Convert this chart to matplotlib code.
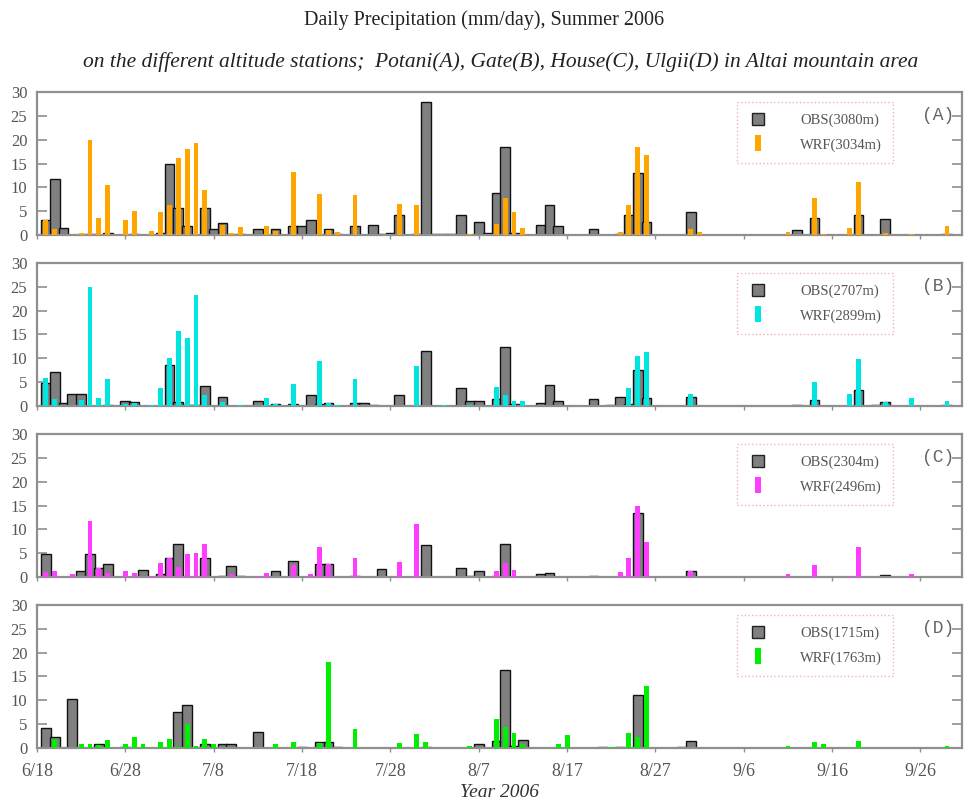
import matplotlib
matplotlib.use("Agg")
import matplotlib.pyplot as plt
from matplotlib.lines import Line2D
import numpy as np

# daily precipitation (mm/day), index 0 = 6/18/2006 ... 104 = 9/30/2006
obs_a = [0, 3.1, 11.7, 1.5, 0, 0, 0.3, 0, 0.5, 0,
         0, 0.2, 0, 0, 0.5, 14.9, 5.7, 1.9, 0, 5.7,
         1.2, 2.6, 0, 0.3, 0, 1.2, 0, 1.2, 0, 1.8,
         1.8, 3.2, 0, 1.2, 0.3, 0, 1.9, 0, 2.0, 0.3,
         0.5, 4.1, 0, 0.3, 27.9, 0.2, 0.2, 0.2, 4.3, 0,
         2.8, 0.5, 8.9, 18.5, 0.5, 0, 0, 2.1, 6.2, 1.9,
         0, 0, 0, 1.2, 0, 0, 0.3, 4.3, 13.0, 2.7,
         0, 0, 0, 0, 4.9, 0, 0, 0, 0, 0,
         0, 0, 0, 0, 0, 0, 1.0, 0, 3.5, 0,
         0, 0, 0, 4.2, 0, 0, 3.3, 0, 0, 0,
         0, 0, 0, 0.3, 0]
wrf_a = [0, 3.1, 1.3, 0, 0, 0.5, 20.0, 3.5, 10.6, 0,
         3.1, 5.0, 0, 0.9, 4.8, 6.4, 16.1, 18.1, 19.3, 9.4,
         0, 2.1, 0.5, 1.6, 0, 0, 1.8, 0.9, 0, 13.2,
         0, 0, 8.6, 1.1, 0.7, 0, 8.4, 0, 0, 0,
         0, 6.5, 0, 6.2, 0, 0, 0, 0, 0, 0.3,
         0, 0, 2.3, 7.7, 4.8, 1.4, 0, 0, 0, 0,
         0, 0, 0, 0, 0, 0, 0.7, 6.2, 18.5, 16.8,
         0, 0, 0, 0, 1.3, 0.7, 0, 0, 0, 0,
         0, 0, 0, 0, 0, 0.7, 0, 0, 7.8, 0.3,
         0, 0, 1.4, 11.2, 0, 0, 0.5, 0, 0, 0.2,
         0, 0, 0, 1.8, 0]

obs_b = [0, 4.9, 7.1, 0.6, 2.6, 2.6, 0, 0, 0.2, 0,
         1.1, 0.8, 0, 0, 0, 8.6, 0.8, 0.3, 0.3, 4.2,
         0, 1.9, 0, 0, 0, 1.1, 0, 0.5, 0, 0.5,
         0, 2.3, 0.5, 0.6, 0, 0, 0.6, 0.6, 0.2, 0,
         0, 2.2, 0, 0, 11.5, 0, 0, 0, 3.8, 1.1,
         1.1, 0, 1.4, 12.4, 0.5, 0, 0, 0.6, 4.4, 1.0,
         0, 0, 0, 1.4, 0, 0.3, 1.8, 0.4, 7.6, 1.7,
         0, 0, 0, 0, 1.8, 0, 0, 0, 0, 0,
         0, 0, 0, 0, 0, 0, 0.3, 0, 1.3, 0,
         0, 0, 0, 3.3, 0, 0.3, 0.9, 0, 0, 0,
         0, 0, 0, 0.2, 0]
wrf_b = [0, 5.9, 1.4, 0, 0, 1.3, 24.9, 1.6, 5.7, 0,
         0.5, 0.6, 0, 0.3, 3.8, 10.0, 15.7, 14.3, 23.3, 2.3,
         0, 0.8, 0, 0.3, 0, 0, 1.6, 0.5, 0, 4.7,
         0, 0, 9.5, 0.7, 0.3, 0, 5.6, 0, 0, 0,
         0, 0, 0, 8.4, 0, 0, 0.3, 0, 0, 0.3,
         0, 0, 3.9, 2.4, 1.1, 1.1, 0, 0, 0, 0,
         0, 0, 0, 0, 0, 0, 0, 3.7, 10.4, 11.3,
         0, 0, 0, 0, 2.5, 0.1, 0, 0, 0, 0,
         0, 0, 0, 0, 0, 0, 0, 0, 5.0, 0,
         0, 0, 2.6, 9.9, 0, 0, 0.9, 0, 0, 1.6,
         0, 0, 0, 1.1, 0]

obs_c = [0, 4.9, 0, 0, 0, 1.3, 4.9, 1.8, 2.7, 0,
         0, 0, 1.4, 0, 0.6, 3.9, 6.9, 0, 0, 3.9,
         0, 0.3, 2.3, 0.3, 0, 0, 0, 1.3, 0, 3.4,
         0, 0, 2.7, 2.7, 0, 0, 0.3, 0, 0, 1.6,
         0, 0, 0, 0, 6.8, 0, 0, 0, 1.8, 0.3,
         1.3, 0, 0.3, 7.0, 0, 0, 0, 0.7, 0.9, 0,
         0, 0, 0, 0.2, 0, 0, 0, 0, 13.4, 0,
         0, 0, 0, 0, 1.3, 0, 0, 0, 0, 0,
         0, 0, 0, 0, 0, 0, 0, 0, 0, 0,
         0, 0, 0, 0, 0, 0, 0.4, 0, 0, 0,
         0, 0, 0, 0, 0]
wrf_c = [0, 1.1, 1.3, 0, 0.6, 0, 11.8, 1.8, 0.8, 0,
         1.3, 0.8, 0, 0.2, 3.0, 3.9, 2.0, 4.8, 5.1, 6.9,
         0, 0, 0.6, 0, 0, 0.2, 0.8, 0, 0, 2.5,
         0, 0.6, 6.2, 2.8, 0, 0, 3.9, 0, 0, 0,
         0, 3.2, 0, 11.1, 0, 0, 0, 0, 0, 0,
         0, 0, 1.3, 3.0, 1.4, 0, 0, 0, 0, 0,
         0, 0, 0, 0, 0, 0, 1.0, 3.9, 15.0, 7.3,
         0, 0, 0, 0, 1.3, 0, 0, 0, 0, 0,
         0, 0, 0, 0, 0, 0.6, 0, 0, 2.5, 0,
         0, 0, 0.2, 6.2, 0, 0, 0, 0, 0, 0.6,
         0, 0, 0, 0, 0]

obs_d = [0, 4.1, 2.4, 0, 10.3, 0, 0, 0.8, 0, 0,
         0.3, 0, 0, 0, 0, 0, 7.5, 9.1, 0, 0.9,
         0, 0.8, 0.8, 0, 0, 3.4, 0, 0, 0, 0,
         0.2, 0, 1.2, 1.2, 0.3, 0, 0, 0, 0, 0,
         0, 0, 0, 0, 0.2, 0, 0, 0, 0, 0,
         0.8, 0, 1.5, 16.3, 0.5, 1.6, 0, 0, 0, 0,
         0, 0, 0, 0, 0.3, 0, 0.3, 0, 11.2, 0,
         0, 0, 0, 0.3, 1.4, 0, 0, 0, 0, 0,
         0, 0, 0, 0, 0, 0, 0, 0, 0, 0,
         0, 0, 0, 0, 0, 0, 0, 0, 0, 0,
         0, 0, 0, 0, 0]
wrf_d = [0, 0, 1.9, 0, 0, 0.8, 0.8, 0.7, 1.6, 0,
         0.8, 2.3, 0.8, 0, 1.2, 1.9, 0.3, 5.0, 0.4, 1.9,
         0.9, 0, 0, 0, 0, 0, 0, 0.9, 0, 1.2,
         0, 0, 1.0, 18.0, 0, 0, 4.0, 0, 0, 0,
         0, 1.0, 0, 3.0, 1.2, 0, 0, 0, 0, 0.5,
         0, 0, 6.1, 4.4, 3.1, 0.9, 0, 0, 0, 0.8,
         2.7, 0, 0, 0, 0, 0.3, 0, 3.1, 2.3, 13.1,
         0, 0, 0, 0, 0, 0, 0, 0, 0, 0,
         0, 0, 0, 0, 0, 0.35, 0, 0, 1.2, 0.8,
         0, 0, 0, 1.5, 0, 0, 0, 0, 0, 0,
         0, 0, 0, 0.35, 0]

panel_tags = ["(A)", "(B)", "(C)", "(D)"]
obs_labels = ["OBS(3080m)", "OBS(2707m)", "OBS(2304m)", "OBS(1715m)"]
wrf_labels = ["WRF(3034m)", "WRF(2899m)", "WRF(2496m)", "WRF(1763m)"]
wrf_colors = ["#ffa500", "#00e5e0", "#ff3cff", "#00ee00"]
tick_labels = ["6/18", "6/28", "7/8", "7/18", "7/28", "8/7",
               "8/17", "8/27", "9/6", "9/16", "9/26"]

obs_all = [obs_a, obs_b, obs_c, obs_d]
wrf_all = [wrf_a, wrf_b, wrf_c, wrf_d]

SERIF = "Liberation Serif"
GREY = "#555555"
FRAME = "#8f8f8f"

fig = plt.figure(figsize=(9.68, 8.06), dpi=100)

fig.text(0.5, 0.975, "Daily Precipitation (mm/day), Summer 2006",
         ha="center", va="center", fontsize=14.5, family=SERIF, color="#222222")
fig.text(0.517, 0.923, "on the different altitude stations;  Potani(A), Gate(B), "
         "House(C), Ulgii(D) in Altai mountain area",
         ha="center", va="center", fontsize=15.5, family=SERIF, style="italic",
         color="#222222")

left, width, height = 0.0382, 0.9556, 0.1774
bottoms = [0.7084, 0.4963, 0.2841, 0.0720]
days = np.arange(len(obs_a))

for i in range(4):
    ax = fig.add_axes([left, bottoms[i], width, height])
    ax.bar(days, obs_all[i], width=1.1, color="#808080", edgecolor="#111111",
           linewidth=1.0, zorder=2)
    ax.bar(days, wrf_all[i], width=0.55, color=wrf_colors[i], linewidth=0,
           zorder=3)

    ax.set_xlim(0, 104.7)
    ax.set_ylim(0, 30)
    ax.set_yticks(np.arange(0, 31, 5))
    ax.set_xticks(np.arange(0, 101, 10))

    for s in ax.spines.values():
        s.set_color(FRAME)
        s.set_linewidth(1.6)

    ax.tick_params(axis="y", which="both", direction="in", length=7, width=1.2,
                   color=FRAME, labelsize=12, labelcolor=GREY, pad=7,
                   right=True)
    ax.tick_params(axis="x", direction="out", length=3, width=1.0,
                   color=FRAME, labelsize=13, labelcolor=GREY, pad=8)
    for lab in ax.get_yticklabels() + ax.get_xticklabels():
        lab.set_family(SERIF)

    if i < 3:
        ax.set_xticklabels([])
    else:
        ax.set_xticklabels(tick_labels)
        ax.set_xlabel("Year 2006", fontsize=14, family=SERIF, style="italic",
                      color="#333333", labelpad=3)

    ax.text(102, 25, panel_tags[i], ha="center", va="center", fontsize=13,
            family="Liberation Mono", color="#666666")

    h_obs = Line2D([], [], ls="none", marker="s", ms=9, mfc="#808080",
                   mec="#222222", mew=1.0)
    h_wrf = Line2D([], [], ls="none", marker=[(-1, -3), (1, -3), (1, 3), (-1, 3)],
                   ms=12, mfc=wrf_colors[i], mec=wrf_colors[i], mew=0)
    leg = ax.legend([h_obs, h_wrf], [obs_labels[i], wrf_labels[i]],
                    loc="upper left", bbox_to_anchor=(0.757, 0.93),
                    borderaxespad=0, frameon=True, fancybox=False,
                    prop={"family": SERIF, "size": 10.5},
                    borderpad=0.8, labelspacing=0.75, handlelength=1.2,
                    handletextpad=2.3)
    for t in leg.get_texts():
        t.set_color(GREY)
    fr = leg.get_frame()
    fr.set_edgecolor("#e6a3ad")
    fr.set_linestyle(":")
    fr.set_linewidth(1.0)

fig.savefig("out.png", dpi=100)
